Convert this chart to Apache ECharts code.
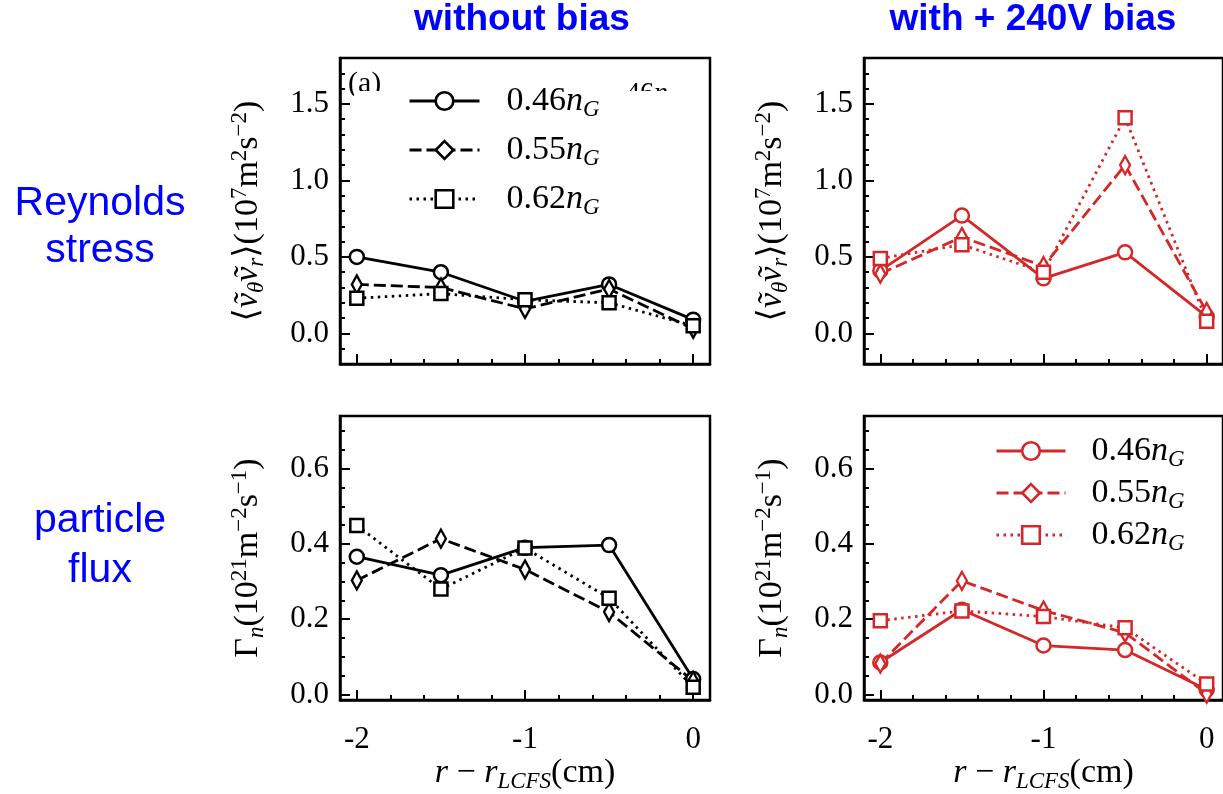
<!DOCTYPE html>
<html><head><meta charset="utf-8">
<script src="https://cdn.jsdelivr.net/npm/echarts@6/dist/echarts.min.js"></script>
<style>html,body{margin:0;padding:0;background:#fff}#c{width:1223px;height:794px}</style>
</head><body><div id="c"></div>
<script>
// ---------- data ----------
const xPositions = [-2, -1.5, -1, -0.5, 0];
const densityLabels = ['0.46', '0.55', '0.62'];
const columnTitles = ['without bias', 'with + 240V bias'];
const rowLabelsTop = ['Reynolds', 'stress'];
const rowLabelsBottom = ['particle', 'flux'];
const xTickLabels = [-2, -1, 0];
const xMinorTicks = [-2, -1.8, -1.6, -1.4, -1.2, -1, -0.8, -0.6, -0.4, -0.2, 0];
const rsTickLabels = [0, 0.5, 1.0, 1.5];
const rsMinorTicks = [-0.1, 0, 0.1, 0.2, 0.3, 0.4, 0.5, 0.6, 0.7, 0.8, 0.9, 1.0, 1.1, 1.2, 1.3, 1.4, 1.5, 1.6, 1.7];
const pfTickLabels = [0, 0.2, 0.4, 0.6];
const pfMinorTicks = [0, 0.05, 0.1, 0.15, 0.2, 0.25, 0.3, 0.35, 0.4, 0.45, 0.5, 0.55, 0.6, 0.65, 0.7];

// Reynolds stress (10^7 m^2 s^-2), without bias
const rsNoBias046 = [0.50, 0.40, 0.21, 0.32, 0.09];
const rsNoBias055 = [0.32, 0.30, 0.16, 0.29, 0.03];
const rsNoBias062 = [0.23, 0.26, 0.22, 0.20, 0.05];
// Reynolds stress, with +240V bias
const rsBias046 = [0.41, 0.77, 0.36, 0.53, 0.11];
const rsBias055 = [0.39, 0.63, 0.44, 1.10, 0.14];
const rsBias062 = [0.49, 0.58, 0.40, 1.41, 0.08];
// particle flux (10^21 m^-2 s^-1), without bias
const pfNoBias046 = [0.366, 0.317, 0.390, 0.397, 0.041];
const pfNoBias055 = [0.303, 0.414, 0.332, 0.219, 0.036];
const pfNoBias062 = [0.449, 0.280, 0.389, 0.256, 0.019];
// particle flux, with +240V bias
const pfBias046 = [0.085, 0.225, 0.130, 0.118, 0.013];
const pfBias055 = [0.082, 0.302, 0.223, 0.164, 0.002];
const pfBias062 = [0.196, 0.222, 0.207, 0.177, 0.028];

// ---------- style ----------
const SERIF = "'Liberation Serif', 'DejaVu Serif', serif";
const SANS = "'Liberation Sans', Arial, sans-serif";
const BLUE = '#0000ff';
const RED = '#d62728';
const BLACK = '#000000';
const diamondPath = 'path://M5,0 L10,10 L5,20 L0,10 Z';
const markers = [
  {symbol: 'circle', size: 14, line: 'solid'},
  {symbol: diamondPath, size: [10, 18], line: [12, 5]},
  {symbol: 'rect', size: 13, line: [2.5, 4.5]}
];

const mathRich = {
  t: {fontFamily: SERIF, fontSize: 34, lineHeight: 40, color: '#000'},
  i: {fontFamily: SERIF, fontSize: 34, lineHeight: 40, fontStyle: 'italic', color: '#000'},
  s: {fontFamily: SERIF, fontSize: 23, lineHeight: 23, fontStyle: 'italic', verticalAlign: 'bottom', color: '#000'},
  p: {fontFamily: SERIF, fontSize: 23, lineHeight: 23, verticalAlign: 'top', color: '#000'}
};

const grids = [
  {left: 340, top: 58, width: 370, height: 306},
  {left: 864, top: 58, width: 370, height: 306},
  {left: 340, top: 416, width: 370, height: 287},
  {left: 864, top: 416, width: 370, height: 287}
].map(g => Object.assign(g, {show: true, borderColor: '#000', borderWidth: 2.5, backgroundColor: 'transparent', containLabel: false}));

const xAxes = [], yAxes = [];
grids.forEach((g, gi) => {
  const isBottom = gi >= 2;
  xAxes.push({
    type: 'value', gridIndex: gi, min: -2.1, max: 0.1, position: 'bottom',
    axisLine: {show: true, onZero: false, lineStyle: {color: '#000', width: 2.5}},
    axisTick: {show: true, inside: true, length: 5, customValues: xMinorTicks, lineStyle: {color: '#000', width: 2}},
    axisLabel: {show: isBottom, customValues: xTickLabels, formatter: v => String(Math.round(v)),
      margin: 24, color: '#000', fontFamily: SERIF, fontSize: 31},
    splitLine: {show: false},
    name: isBottom ? '{i|r}{t| − }{i|r}{s|LCFS}{t|(cm)}' : '',
    nameLocation: 'middle', nameGap: 50,
    nameTextStyle: {rich: mathRich}
  });
  xAxes.push({
    type: 'value', gridIndex: gi, min: -2.1, max: 0.1, position: 'bottom',
    axisLine: {show: false, onZero: false},
    axisTick: {show: true, inside: true, length: 10, customValues: xTickLabels, lineStyle: {color: '#000', width: 2}},
    axisLabel: {show: false}, splitLine: {show: false}
  });
  const yMin = isBottom ? -0.015 : -0.2;
  const yMax = isBottom ? 0.74 : 1.8;
  const labels = isBottom ? pfTickLabels : rsTickLabels;
  const minors = isBottom ? pfMinorTicks : rsMinorTicks;
  yAxes.push({
    type: 'value', gridIndex: gi, min: yMin, max: yMax, position: 'left',
    axisLine: {show: true, onZero: false, lineStyle: {color: '#000', width: 2.5}},
    axisTick: {show: true, inside: true, length: 5, customValues: minors, lineStyle: {color: '#000', width: 2}},
    axisLabel: {customValues: labels, formatter: v => v.toFixed(1), margin: 11,
      color: '#000', fontFamily: SERIF, fontSize: 31},
    splitLine: {show: false},
    name: isBottom ? '{t|Γ}{s|n}{t|(10}{p|21}{t|m}{p|−2}{t|s}{p|−1}{t|)}'
                   : '{t|⟨}{i|ṽ}{s|θ}{i|ṽ}{s|r}{t|⟩(10}{p|7}{t|m}{p|2}{t|s}{p|−2}{t|)}',
    nameLocation: 'middle', nameRotate: 90, nameGap: 72,
    nameTextStyle: {rich: mathRich}
  });
  yAxes.push({
    type: 'value', gridIndex: gi, min: yMin, max: yMax, position: 'left',
    axisLine: {show: false, onZero: false},
    axisTick: {show: true, inside: true, length: 10, customValues: labels, lineStyle: {color: '#000', width: 2}},
    axisLabel: {show: false}, splitLine: {show: false}
  });
});

const panelData = [
  {grid: 0, color: BLACK, prefix: 'k', sets: [rsNoBias046, rsNoBias055, rsNoBias062]},
  {grid: 1, color: RED, prefix: 'r', sets: [rsBias046, rsBias055, rsBias062]},
  {grid: 2, color: BLACK, prefix: 'k', sets: [pfNoBias046, pfNoBias055, pfNoBias062]},
  {grid: 3, color: RED, prefix: 'r', sets: [pfBias046, pfBias055, pfBias062]}
];

const series = [];
panelData.forEach(p => {
  p.sets.forEach((vals, k) => {
    const m = markers[k];
    series.push({
      type: 'line', name: p.prefix + densityLabels[k],
      xAxisIndex: p.grid * 2, yAxisIndex: p.grid * 2,
      data: xPositions.map((x, i) => [x, vals[i]]),
      symbol: m.symbol, symbolSize: m.size, symbolKeepAspect: false,
      showAllSymbol: true,
      itemStyle: {color: '#fff', borderColor: p.color, borderWidth: 2.5, opacity: 1},
      lineStyle: {color: p.color, width: 2.8, type: m.line},
      emphasis: {disabled: true},
      animation: false
    });
  });
});

function legendFormatter(name) {
  return '{a|' + name.slice(1) + '}{n|n}{g|G}';
}
function legendRich(pad) {
  return {
    a: {fontFamily: SERIF, fontSize: 34, lineHeight: 40, color: '#000', padding: [0, 0, 0, pad]},
    n: {fontFamily: SERIF, fontSize: 34, lineHeight: 40, fontStyle: 'italic', color: '#000'},
    g: {fontFamily: SERIF, fontSize: 23, lineHeight: 23, fontStyle: 'italic', verticalAlign: 'bottom', color: '#000'}
  };
}

const legends = [
  {data: densityLabels.map(d => 'k' + d), left: 408, top: 84, itemGap: 12, pad: 22, itemWidth: 70},
  {data: densityLabels.map(d => 'r' + d), left: 995, top: 434, itemGap: 5, pad: 21, itemWidth: 69}
].map(l => ({
  data: l.data, left: l.left, top: l.top, orient: 'vertical', itemGap: l.itemGap,
  itemWidth: l.itemWidth, itemHeight: 22, padding: 0, selectedMode: false,
  formatter: legendFormatter,
  lineStyle: {width: 3},
  itemStyle: {borderWidth: 2.6},
  textStyle: {rich: legendRich(l.pad)}
}));

const graphic = [
  // partially hidden panel tag and label (covered by the legend box in the original)
  {type: 'text', x: 348, y: 69, z: 2, style: {text: '(a)', font: '30px ' + SERIF, fill: '#000', align: 'left', verticalAlign: 'top'}},
  {type: 'text', x: 626, y: 79, z: 2, style: {text: '{t|46}{i|n}{s|G}', fill: '#000', align: 'left', verticalAlign: 'top',
    rich: {t: {fontFamily: SERIF, fontSize: 28, lineHeight: 30}, i: {fontFamily: SERIF, fontSize: 28, lineHeight: 30, fontStyle: 'italic'},
           s: {fontFamily: SERIF, fontSize: 19, lineHeight: 19, fontStyle: 'italic', verticalAlign: 'bottom'}}}},
  {type: 'rect', z: 3, shape: {x: 354, y: 91, width: 350, height: 125}, style: {fill: '#fff'}},
  // column titles
  {type: 'text', x: 522, y: 20, style: {text: columnTitles[0], font: 'bold 37px ' + SANS, fill: BLUE, align: 'center', verticalAlign: 'middle'}},
  {type: 'text', x: 1033, y: 20, style: {text: columnTitles[1], font: 'bold 37px ' + SANS, fill: BLUE, align: 'center', verticalAlign: 'middle'}},
  // row labels
  {type: 'text', x: 100, y: 204, style: {text: rowLabelsTop[0], font: '41px ' + SANS, fill: BLUE, align: 'center', verticalAlign: 'middle'}},
  {type: 'text', x: 100, y: 251, style: {text: rowLabelsTop[1], font: '41px ' + SANS, fill: BLUE, align: 'center', verticalAlign: 'middle'}},
  {type: 'text', x: 100, y: 521, style: {text: rowLabelsBottom[0], font: '41px ' + SANS, fill: BLUE, align: 'center', verticalAlign: 'middle'}},
  {type: 'text', x: 100, y: 571, style: {text: rowLabelsBottom[1], font: '41px ' + SANS, fill: BLUE, align: 'center', verticalAlign: 'middle'}}
];

const chart = echarts.init(document.getElementById('c'), null, {renderer: 'canvas'});
chart.setOption({
  animation: false,
  backgroundColor: '#fff',
  grid: grids,
  xAxis: xAxes,
  yAxis: yAxes,
  legend: legends,
  series: series,
  graphic: graphic
});
</script>
</body></html>
